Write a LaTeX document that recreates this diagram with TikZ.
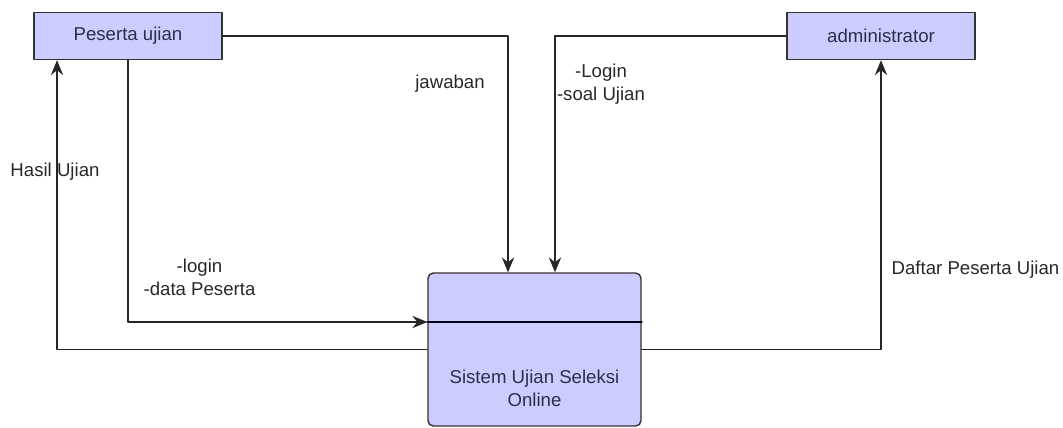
\documentclass[tikz,border=0pt]{standalone}
\usepackage{fontspec}
\setmainfont{Liberation Sans}
\usetikzlibrary{arrows.meta}
\definecolor{boxfill}{RGB}{204,204,255}
\definecolor{boxtext}{RGB}{45,45,75}
\definecolor{labeltext}{RGB}{40,40,40}
\begin{document}
\begin{tikzpicture}[x=0.02cm, y=-0.02cm, line cap=round, line join=round,
    font=\fontsize{10.6}{13}\selectfont,
    actor/.style={draw=black!80, fill=boxfill, line width=0.8pt, minimum width=3.76cm, minimum height=0.94cm, text=boxtext},
    process/.style={draw=black!80, fill=boxfill, line width=0.8pt, rounded corners=3pt, minimum width=4.26cm, minimum height=3.06cm},
    flow/.style={draw=black!85, line width=0.75pt, -{Stealth[length=8.5pt,width=7pt,inset=2.8pt]}},
    flowlabel/.style={text=labeltext, align=center, inner sep=0pt}]
    \useasboundingbox (0,0) rectangle (1063,428);
    \node[actor] (peserta) at (128,36) {Peserta ujian};
    \node[actor] (admin) at (881,36) {administrator};
    \node[process] (sistem) at (534.5,349.5) {};
    \draw[line width=1.3pt, draw=black!90!blue] ([yshift=0.55cm]sistem.west) -- ([yshift=0.55cm]sistem.east);
    \node[text=boxtext, align=center] (sistemtext) at (534.5,388) {Sistem Ujian Seleksi\\Online};
    \draw[flow] (peserta.east) -| ([xshift=-0.53cm]sistem.north);
    \draw[flow] (admin.west) -| ([xshift=0.41cm]sistem.north);
    \draw[flow] (peserta.south) |- ([yshift=0.55cm]sistem.west);
    \draw[flow] (sistem.west) -| ([xshift=-1.42cm]peserta.south);
    \draw[flow] (sistem.east) -| (admin.south);
    \node[flowlabel] (jawaban) at (450,84) {jawaban};
    \node[flowlabel] (soal) at (601,84) {-Login\\-soal Ujian};
    \node[flowlabel] (login) at (199.5,277) {-login\\-data Peserta};
    \node[flowlabel] (hasil) at (55,172) {Hasil Ujian};
    \node[flowlabel] (daftar) at (975.5,270) {Daftar Peserta Ujian};
\end{tikzpicture}
\end{document}
